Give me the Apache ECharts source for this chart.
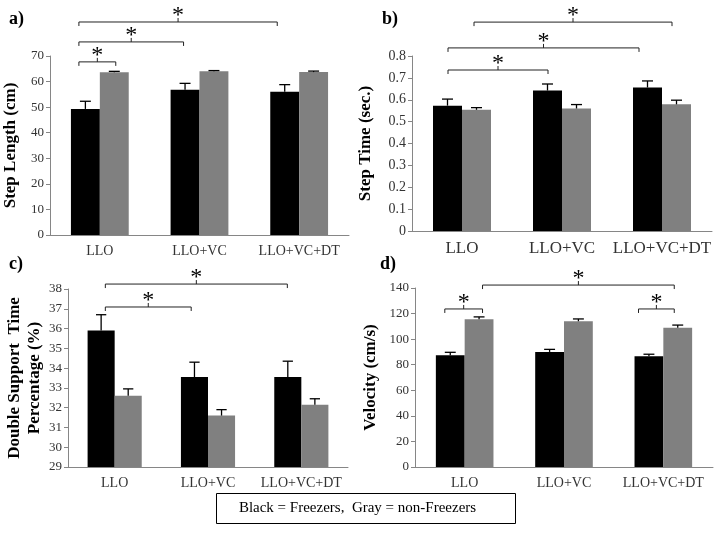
<!DOCTYPE html>
<html><head><meta charset="utf-8">
<script src="https://cdn.jsdelivr.net/npm/echarts@6/dist/echarts.min.js"></script>
<style>html,body{margin:0;padding:0;background:#fff}#c{width:715px;height:535px}</style>
</head><body><div id="c"></div>
<script>
const categories = ['LLO', 'LLO+VC', 'LLO+VC+DT'];

const stepLengthFreezers = [49.3, 56.8, 56.0];
const stepLengthFreezersErr = [3.0, 2.5, 2.8];
const stepLengthNonFreezers = [63.6, 64.0, 63.7];
const stepLengthNonFreezersErr = [0.4, 0.3, 0.4];

const stepTimeFreezers = [0.573, 0.642, 0.656];
const stepTimeFreezersErr = [0.03, 0.03, 0.03];
const stepTimeNonFreezers = [0.554, 0.560, 0.579];
const stepTimeNonFreezersErr = [0.01, 0.018, 0.019];

const doubleSupportFreezers = [35.9, 33.55, 33.55];
const doubleSupportFreezersErr = [0.8, 0.75, 0.8];
const doubleSupportNonFreezers = [32.6, 31.6, 32.15];
const doubleSupportNonFreezersErr = [0.35, 0.3, 0.3];

const velocityFreezers = [87.5, 90.0, 86.7];
const velocityFreezersErr = [2.2, 2.0, 1.5];
const velocityNonFreezers = [115.6, 114.0, 109.0];
const velocityNonFreezersErr = [1.8, 1.8, 2.0];

// significance brackets: [from (category units), to (category units), level (data units)]
const bracketsA = [[-0.21, 0.16, 67.7], [-0.21, 0.84, 75.5], [-0.21, 1.78, 83.3]];
const bracketsB = [[-0.14, 0.86, 0.736], [-0.14, 1.77, 0.837], [0.12, 2.10, 0.955]];
const bracketsC = [[-0.10, 0.82, 37.09], [-0.10, 1.85, 38.25]];
const bracketsD = [[-0.20, 0.18, 123.6], [0.18, 2.11, 142.3], [1.75, 2.11, 123.6]];

const SERIF = '"Liberation Serif", "DejaVu Serif", serif';
const BAR_W = 0.29;

function errRender(offsetFrac) {
  return function (params, api) {
    const i = api.value(0), v = api.value(1), e = api.value(2);
    const base = api.coord([i, v]);
    const top = api.coord([i, v + e]);
    const band = api.size([1, 0])[0];
    const x = base[0] + offsetFrac * band;
    const cap = band * 0.055;
    const st = { stroke: '#000', lineWidth: 1.3 };
    return { type: 'group', children: [
      { type: 'line', shape: { x1: x, y1: base[1], x2: x, y2: top[1] }, style: st },
      { type: 'line', shape: { x1: x - cap, y1: top[1], x2: x + cap, y2: top[1] }, style: st }
    ]};
  };
}

function bracketRender(params, api) {
  const a = api.value(0), b = api.value(1), y = api.value(2);
  const c0 = api.coord([0, y]);
  const band = api.size([1, 0])[0];
  const x1 = c0[0] + a * band, x2 = c0[0] + b * band, yy = c0[1];
  const mid = (x1 + x2) / 2;
  const st = { stroke: '#222', lineWidth: 1 };
  return { type: 'group', children: [
    { type: 'polyline', shape: { points: [[x1, yy + 4], [x1, yy], [x2, yy], [x2, yy + 4]] }, style: Object.assign({ fill: null }, st) },
    { type: 'line', shape: { x1: mid, y1: yy, x2: mid, y2: yy - 4 }, style: st },
    { type: 'text', style: { text: '*', x: mid, y: yy + 6, align: 'center', verticalAlign: 'bottom', font: '24px ' + SERIF, fill: '#000' } }
  ]};
}

const grids = [
  { left: 48, right: 366, top: 56, bottom: 300 },
  { left: 412, right: 3, top: 56, bottom: 304 },
  { left: 68, right: 367, top: 289, bottom: 68 },
  { left: 415, right: 2, top: 288, bottom: 68 }
];
const yCfg = [
  { min: 0, max: 70, interval: 10, name: 'Step Length (cm)', gap: 29, fs: 13 },
  { min: 0, max: 0.8, interval: 0.1, name: 'Step Time (sec.)', gap: 36, fs: 14 },
  { min: 29, max: 38, interval: 1, name: 'Double Support  Time\nPercentage (%)', gap: 20, fs: 13 },
  { min: 0, max: 140, interval: 20, name: 'Velocity (cm/s)', gap: 34, fs: 13 }
];
const xFs = [14, 17, 14, 14];
const panels = [
  [stepLengthFreezers, stepLengthFreezersErr, stepLengthNonFreezers, stepLengthNonFreezersErr, bracketsA],
  [stepTimeFreezers, stepTimeFreezersErr, stepTimeNonFreezers, stepTimeNonFreezersErr, bracketsB],
  [doubleSupportFreezers, doubleSupportFreezersErr, doubleSupportNonFreezers, doubleSupportNonFreezersErr, bracketsC],
  [velocityFreezers, velocityFreezersErr, velocityNonFreezers, velocityNonFreezersErr, bracketsD]
];

const axisLine = { lineStyle: { color: '#868686', width: 1 } };
const xAxis = grids.map((g, k) => ({
  type: 'category', gridIndex: k, data: categories,
  axisLine: axisLine, axisTick: { lineStyle: { color: '#868686' }, length: 5 },
  axisLabel: { interval: 0, fontFamily: SERIF, fontSize: xFs[k], color: '#333', margin: 9 }
}));
const yAxis = yCfg.map((c, k) => ({
  type: 'value', gridIndex: k, min: c.min, max: c.max, interval: c.interval,
  splitLine: { show: false },
  axisLine: Object.assign({ show: true }, axisLine),
  axisTick: { show: true, length: 4, lineStyle: { color: '#868686' } },
  axisLabel: { fontFamily: SERIF, fontSize: c.fs, color: '#333', margin: 6 },
  name: c.name, nameLocation: 'middle', nameGap: c.gap,
  nameTextStyle: { fontFamily: SERIF, fontSize: 17, fontWeight: 'bold', color: '#000', lineHeight: 20 }
}));

const series = [];
panels.forEach((p, k) => {
  series.push({ type: 'bar', xAxisIndex: k, yAxisIndex: k, data: p[0], barWidth: '29%', barGap: '0%', itemStyle: { color: '#000' }, silent: true });
  series.push({ type: 'bar', xAxisIndex: k, yAxisIndex: k, data: p[2], barWidth: '29%', barGap: '0%', itemStyle: { color: '#808080' }, silent: true });
  series.push({ type: 'custom', xAxisIndex: k, yAxisIndex: k, clip: false, z: 5,
    data: p[0].map((v, i) => [i, v, p[1][i]]), encode: { x: 0, y: 1 }, renderItem: errRender(-BAR_W / 2) });
  series.push({ type: 'custom', xAxisIndex: k, yAxisIndex: k, clip: false, z: 5,
    data: p[2].map((v, i) => [i, v, p[3][i]]), encode: { x: 0, y: 1 }, renderItem: errRender(BAR_W / 2) });
  series.push({ type: 'custom', xAxisIndex: k, yAxisIndex: k, clip: false, z: 6,
    data: p[4], encode: { x: -1, y: 2 }, renderItem: bracketRender });
});

const panelLabel = (t, x, y) => ({ type: 'text', left: x, top: y, style: { text: t, font: 'bold 18px ' + SERIF, fill: '#000' } });

const chart = echarts.init(document.getElementById('c'), null, { renderer: 'canvas' });
chart.setOption({
  animation: false,
  backgroundColor: '#fff',
  grid: grids,
  xAxis: xAxis,
  yAxis: yAxis,
  series: series,
  graphic: [
    panelLabel('a)', 9, 10), panelLabel('b)', 382, 10), panelLabel('c)', 9, 255), panelLabel('d)', 380, 255),
    { type: 'rect', left: 216, top: 493, shape: { width: 299, height: 30 }, style: { fill: '#fff', stroke: '#000', lineWidth: 1 } },
    { type: 'text', left: 'center', top: 501, style: { text: 'Black = Freezers,  Gray = non-Freezers', font: '15px ' + SERIF, fill: '#000' } }
  ]
});
</script></body></html>
